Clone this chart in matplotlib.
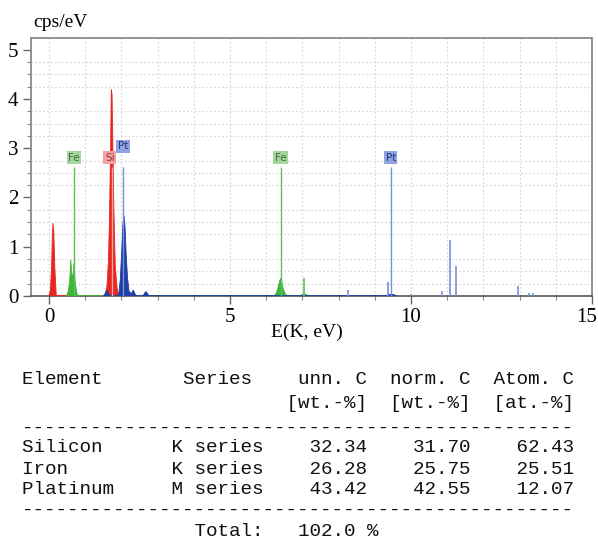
import matplotlib
matplotlib.use("Agg")
import matplotlib.pyplot as plt
from matplotlib.ticker import MultipleLocator, FuncFormatter

# filled spectrum parts (keV, cps/eV)
si_x = [0.00, 0.04, 0.07, 0.09, 0.11, 0.13, 0.16, 0.20,
        1.55, 1.60, 1.64, 1.67, 1.70, 1.72, 1.74, 1.76, 1.79, 1.83, 1.88, 1.93]
si_y = [0.00, 0.15, 0.60, 1.20, 1.48, 1.30, 0.55, 0.00,
        0.00, 0.20, 0.70, 1.60, 3.00, 4.19, 4.10, 3.20, 1.80, 0.60, 0.15, 0.00]

fe_x = [0.48, 0.53, 0.57, 0.60, 0.63, 0.66, 0.69, 0.72, 0.76, 0.80,
        6.22, 6.28, 6.33, 6.37, 6.40, 6.43, 6.47, 6.52, 6.58,
        6.93, 7.00, 7.05, 7.10, 7.17]
fe_y = [0.00, 0.10, 0.30, 0.73, 0.43, 0.40, 0.67, 0.30, 0.08, 0.00,
        0.00, 0.06, 0.18, 0.30, 0.36, 0.30, 0.15, 0.05, 0.00,
        0.00, 0.03, 0.05, 0.03, 0.00]

pt_x = [1.50, 1.55, 1.59, 1.64, 1.68,
        1.92, 1.97, 2.01, 2.04, 2.07, 2.10, 2.13, 2.17, 2.21, 2.26, 2.30, 2.33, 2.37, 2.41,
        2.60, 2.64, 2.68, 2.72, 2.76,
        9.30, 9.38, 9.45, 9.52, 9.60]
pt_y = [0.00, 0.05, 0.12, 0.06, 0.00,
        0.00, 0.35, 0.95, 1.45, 1.63, 1.40, 0.85, 0.35, 0.10, 0.05, 0.08, 0.12, 0.05, 0.00,
        0.00, 0.06, 0.09, 0.05, 0.00,
        0.00, 0.03, 0.03, 0.03, 0.00]

# thin single-channel lines
pt_line_x = [8.27, 9.37, 9.99, 10.85, 11.08, 11.24, 12.97, 13.27, 13.36]
pt_line_h = [0.12, 0.28, 0.04, 0.11, 1.14, 0.61, 0.21, 0.06, 0.06]
fe_line_x = [7.05]
fe_line_h = [0.36]

# element markers
marker_elem = ["Fe", "Si", "Pt", "Fe", "Pt"]
marker_x = [0.69, 1.74, 2.04, 6.40, 9.44]
marker_h = [2.62, 2.62, 2.62, 2.62, 2.62]

# quantification table
tbl_elem = ["Silicon", "Iron", "Platinum"]
tbl_series = ["K series", "K series", "M series"]
tbl_unn = [32.34, 26.28, 43.42]
tbl_norm = [31.70, 25.75, 42.55]
tbl_atom = [62.43, 25.51, 12.07]
tbl_total = 102.0

fill_col = {"Si": "#e8261f", "Fe": "#3db53a", "Pt": "#1f3ea6"}
line_col = {"Si": "#f4a7a4", "Fe": "#5cc05a", "Pt": "#7890dc"}
box_col = {"Si": "#f2a29e", "Fe": "#a3d69d", "Pt": "#8ea3e0"}
txt_col = {"Si": "#8c4040", "Fe": "#3f6e3d", "Pt": "#27357a"}

fig = plt.figure(figsize=(5.98, 5.41), dpi=100)
ax = fig.add_axes([0.0518, 0.4529, 0.938, 0.477])

ax.fill(si_x, si_y, color=fill_col["Si"], lw=0.6, zorder=3)
ax.fill(fe_x, fe_y, color=fill_col["Fe"], lw=0.6, zorder=3)
ax.fill(pt_x, pt_y, color=fill_col["Pt"], lw=0.6, zorder=4)
ax.vlines(pt_line_x, 0, pt_line_h, color=line_col["Pt"], lw=1.2, zorder=4)
ax.vlines(fe_line_x, 0, fe_line_h, color=line_col["Fe"], lw=1.2, zorder=4)

for el, x, h in zip(marker_elem, marker_x, marker_h):
    ax.vlines(x, 0, h, color=line_col[el], lw=1.0, zorder=5)
    lx, ly = x, h + 0.19
    if el == "Si":
        lx = x - 0.06
    if el == "Pt" and x < 3:
        ly = h + 0.42
    ax.text(lx, ly, el, fontsize=7.5, family="DejaVu Sans", color=txt_col[el],
            ha="center", va="center", zorder=6,
            bbox=dict(boxstyle="square,pad=0.15", fc=box_col[el], ec="none"))

xmax = 15
ax.set_xlim(-0.5, xmax)
ax.set_ylim(0, 5.24)
ax.xaxis.set_major_locator(MultipleLocator(5))
ax.xaxis.set_minor_locator(MultipleLocator(1))
ax.yaxis.set_major_locator(MultipleLocator(1))
ax.yaxis.set_minor_locator(MultipleLocator(0.25))
# the label at the right edge is drawn separately, nudged inwards
ax.xaxis.set_major_formatter(FuncFormatter(lambda v, p: "" if v >= xmax else f"{v:.0f}"))
ax.grid(True, which="major", axis="x", color="#d4d4d4", ls=(0, (1.5, 2)), lw=0.8)
ax.grid(True, which="minor", axis="both", color="#d4d4d4", ls=(0, (1.5, 2)), lw=0.8)
ax.set_axisbelow(True)

for side in ["left", "top", "right"]:
    ax.spines[side].set_color("#8a8a8a")
    ax.spines[side].set_linewidth(1.3)
ax.spines["bottom"].set_color("#555555")
ax.spines["bottom"].set_linewidth(1.2)

ax.tick_params(which="major", direction="out", length=6, width=1, color="#666666",
               labelsize=15, pad=3)
ax.tick_params(which="minor", direction="out", length=3, width=0.8, color="#888888")
for lab in ax.get_xticklabels() + ax.get_yticklabels():
    lab.set_family("Liberation Serif")
ax.annotate(f"{xmax}", xy=(xmax, 0), xycoords=("data", "axes fraction"),
            xytext=(-4, -9), textcoords="offset points", ha="center", va="top",
            family="Liberation Serif", fontsize=15, annotation_clip=False)

fig.text(0.055, 0.958, "cps/eV", family="Liberation Serif", fontsize=14, va="center")
fig.text(0.513, 0.385, "E(K, eV)", family="Liberation Serif", fontsize=14,
         ha="center", va="center")

# table as monospaced lines
head1 = "Element" + " " * 7 + "Series" + " " * 4 + "unn. C" + " " * 2 + "norm. C" + " " * 2 + "Atom. C"
head2 = " " * 23 + "[wt.-%]  [wt.-%]  [at.-%]"
dash = "-" * 48
rows = []
for e, s, a, b, c in zip(tbl_elem, tbl_series, tbl_unn, tbl_norm, tbl_atom):
    rows.append(f"{e:<13}{s:<8}{a:9.2f}{b:9.2f}{c:9.2f}")
total = " " * 15 + "Total:" + " " * 3 + f"{tbl_total:.1f} %"

lines = [head1, head2, dash] + rows + [dash, total]
ys = [380, 404, 428, 447, 469, 490, 510, 532]
for t, y in zip(lines, ys):
    fig.text(22 / 598, 1 - y / 541, t, family="Liberation Mono", fontsize=13.9,
             va="center", ha="left", color="#111111")

fig.savefig("out.png", dpi=100)
